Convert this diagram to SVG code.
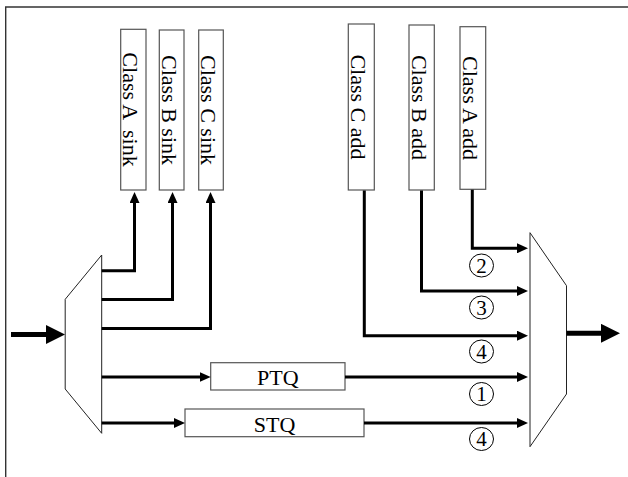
<svg xmlns="http://www.w3.org/2000/svg" width="628" height="477" viewBox="0 0 628 477">
<style>
.box{fill:#fff;stroke:#555;stroke-width:1.2}
.mux{fill:#fff;stroke:#222;stroke-width:1}
.lbl{font-family:"Liberation Serif","Times New Roman",serif;font-size:22px;fill:#000;white-space:pre}
.num{font-family:"Liberation Serif","Times New Roman",serif;font-size:21px;fill:#000;text-anchor:middle}
.cn{fill:none;stroke:#000;stroke-width:3;stroke-linejoin:miter;stroke-linecap:butt}
.big{fill:none;stroke:#000;stroke-width:5}
.circ{fill:#fff;stroke:#000;stroke-width:1}
</style>
<defs>
<marker id="ah" markerUnits="userSpaceOnUse" markerWidth="11" markerHeight="10" refX="3" refY="5" orient="auto">
<path d="M0,0 L11,5 L0,10 z" fill="#000"/>
</marker>
<marker id="ahb" markerUnits="userSpaceOnUse" markerWidth="19" markerHeight="19" refX="2" refY="9.5" orient="auto">
<path d="M0,0 L19,9.5 L0,19 z" fill="#000"/>
</marker>
</defs>
<rect width="628" height="477" fill="#fff"/>
<path d="M5.7,477 V7 H628" fill="none" stroke="#333" stroke-width="1.4"/>

<g id="sinkA"><rect class="box" x="120.7" y="29.3" width="25.3" height="160.7"/><text class="lbl" text-anchor="middle" transform="translate(123,109.5) rotate(90)">Class A  sink</text></g>
<g id="sinkB"><rect class="box" x="159.3" y="30" width="24.7" height="160"/><text class="lbl" text-anchor="middle" transform="translate(161.5,110) rotate(90)">Class B sink</text></g>
<g id="sinkC"><rect class="box" x="198.7" y="30" width="24.6" height="160"/><text class="lbl" text-anchor="middle" transform="translate(201,110) rotate(90)">Class C sink</text></g>
<g id="addC"><rect class="box" x="348.3" y="24" width="26" height="166"/><text class="lbl" text-anchor="middle" transform="translate(351,107) rotate(90)">Class C add</text></g>
<g id="addB"><rect class="box" x="409" y="25" width="25.3" height="165"/><text class="lbl" text-anchor="middle" transform="translate(411.8,107.5) rotate(90)">Class B add</text></g>
<g id="addA"><rect class="box" x="460" y="26.7" width="25.7" height="162.6"/><text class="lbl" text-anchor="middle" transform="translate(462.8,108) rotate(90)">Class A add</text></g>

<g id="demux"><polygon class="mux" points="101.7,255 65.2,299.3 65.2,389 101.7,433.3"/></g>
<g id="mux"><polygon class="mux" points="530,232.7 566.5,285.7 566.5,394 530,446.7"/></g>

<g id="ptq"><rect class="box" x="210.7" y="362.7" width="134.3" height="27.3"/><text class="lbl" x="277.9" y="385" text-anchor="middle">PTQ</text></g>
<g id="stq"><rect class="box" x="185" y="409" width="179" height="27.7"/><text class="lbl" x="274.5" y="431.5" text-anchor="middle">STQ</text></g>

<g id="connectors">
<path class="big" d="M11,334.5 H48" marker-end="url(#ahb)"/>
<path class="big" d="M566.5,333.3 H603" marker-end="url(#ahb)"/>
<path class="cn" d="M101.7,270.7 H134.5 V200" marker-end="url(#ah)"/>
<path class="cn" d="M101.7,299.5 H172.5 V200" marker-end="url(#ah)"/>
<path class="cn" d="M101.7,328.5 H210.5 V200" marker-end="url(#ah)"/>
<path class="cn" d="M101.7,377 H202.7" marker-end="url(#ah)"/>
<path class="cn" d="M101.7,423 H177" marker-end="url(#ah)"/>
<path class="cn" d="M345,377 H520" marker-end="url(#ah)"/>
<path class="cn" d="M364,423 H520" marker-end="url(#ah)"/>
<path class="cn" d="M364.3,190.5 V335.7 H520" marker-end="url(#ah)"/>
<path class="cn" d="M421.5,190.5 V291 H520" marker-end="url(#ah)"/>
<path class="cn" d="M472.3,189.8 V248.3 H520" marker-end="url(#ah)"/>
</g>

<g id="n2"><ellipse class="circ" cx="481.5" cy="265.5" rx="12" ry="11.5"/><text class="num" x="481.5" y="272.8">2</text></g>
<g id="n3"><ellipse class="circ" cx="481.5" cy="307.5" rx="12" ry="11.5"/><text class="num" x="481.5" y="314.8">3</text></g>
<g id="n4a"><ellipse class="circ" cx="481.5" cy="351.5" rx="12" ry="11.5"/><text class="num" x="481.5" y="358.8">4</text></g>
<g id="n1"><ellipse class="circ" cx="481.5" cy="394" rx="12" ry="11.5"/><text class="num" x="481.5" y="401.3">1</text></g>
<g id="n4b"><ellipse class="circ" cx="481.5" cy="439" rx="12" ry="11.5"/><text class="num" x="481.5" y="446.3">4</text></g>
</svg>
